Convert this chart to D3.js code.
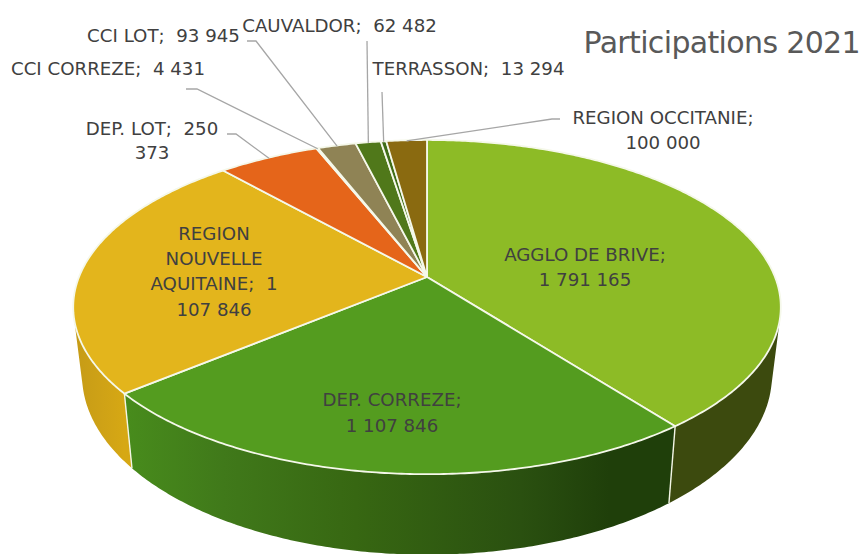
<!DOCTYPE html>
<html><head><meta charset="utf-8">
<script src="https://cdn.jsdelivr.net/npm/d3@7"></script>
<style>html,body{margin:0;padding:0;background:#fff}svg{display:block}
text{font-family:"DejaVu Sans",sans-serif;white-space:pre}</style></head>
<body><svg id="c" width="868" height="554"></svg>
<script>
const titleText = "Participations 2021";
const categories = ["AGGLO DE BRIVE","DEP. CORREZE","REGION NOUVELLE AQUITAINE","DEP. LOT","CCI CORREZE","CCI LOT","CAUVALDOR","TERRASSON","REGION OCCITANIE"];
const values = [1791165,1107846,1107846,250373,4431,93945,62482,13294,100000];
const topColors = ["#8dbb26","#549c1f","#e3b51c","#e5651a","#6f7a30","#8f8355","#50781a","#3f6d17","#8a6a10"];
const labelLines = [
 ["AGGLO DE BRIVE;","1 791 165"],["DEP. CORREZE;","1 107 846"],
 ["REGION","NOUVELLE","AQUITAINE;  1","107 846"],["DEP. LOT;  250","373"],
 ["CCI CORREZE;  4 431"],["CCI LOT;  93 945"],["CAUVALDOR;  62 482"],["TERRASSON;  13 294"],
 ["REGION OCCITANIE;","100 000"]];
// label layout: centre x, first baseline, line step, leader elbow points
const labelLayout = [
 {x:585,y:261,dy:24.5},{x:392,y:406,dy:25.5},{x:214,y:240,dy:25.2},
 {x:152,y:135,dy:24,lead:[[227,134],[236,134]]},
 {x:108,y:75,dy:0,lead:[[186,89],[197,89]]},
 {x:163.5,y:42,dy:0,lead:[[247,41],[256,41]]},
 {x:339.5,y:32,dy:0,lead:[[367,41]]},
 {x:468.5,y:75,dy:0,lead:[[382,92]]},
 {x:663,y:124,dy:25,lead:[[560,119],[552,119]]}];

const svg = d3.select("#c");
const cx=427, cy=277, S=348, K=161.7, P=0.18, D=66, SH=0.975;
const proj = (a,r=1)=>{const X=Math.sin(a)*r,Y=-Math.cos(a)*r,w=1-P*Y;return [cx+S*X/w,cy+K*Y/w];};
const projB = (a)=>{const X=Math.sin(a),Y=-Math.cos(a),w=1-P*Y;return [cx+SH*S*X/w,cy+K*Y/w+D/w];};
const pie = d3.pie().sort(null).value(d=>d)(values);
const line = d3.line();
const steps=(a0,a1)=>{const n=Math.max(2,Math.ceil((a1-a0)/0.01));return d3.range(n+1).map(i=>a0+(a1-a0)*i/n);};

const defs = svg.append("defs");
const g1 = defs.append("linearGradient").attr("id","gCor").attr("gradientUnits","userSpaceOnUse")
 .attr("x1",proj(pie[1].endAngle)[0]).attr("x2",proj(pie[1].startAngle)[0]).attr("y1",0).attr("y2",0);
[[0,"#488c1c"],[0.18,"#40791a"],[0.42,"#376712"],[0.72,"#2a5010"],[0.88,"#1f3f0a"],[1,"#1f3f0a"]].forEach(s=>g1.append("stop").attr("offset",s[0]).attr("stop-color",s[1]));
const g2 = defs.append("linearGradient").attr("id","gReg").attr("gradientUnits","userSpaceOnUse")
 .attr("x1",70).attr("x2",proj(pie[2].startAngle)[0]).attr("y1",0).attr("y2",0);
[[0,"#c49a16"],[0.6,"#cfa216"],[1,"#d6a814"]].forEach(s=>g2.append("stop").attr("offset",s[0]).attr("stop-color",s[1]));
const sideFill = ["#3c4a0e","url(#gCor)","url(#gReg)","#a84a12","#555","#6a6040","#3a5812","#2f5010","#66500c"];

// side walls: one quad per angular step, so the silhouette follows the tangents
svg.append("g").selectAll("path").data(pie).join("path")
 .attr("fill",(d,i)=>sideFill[i])
 .attr("d",d=>{const as=steps(d.startAngle,d.endAngle);
   return as.slice(1).map((a,i)=>{const b=as[i];
     const q=[proj(b),proj(a),projB(a),projB(b)];
     const area=d3.polygonArea(q);
     return line(area>0?q:q.reverse())+"Z";}).join("");});
// seams between walls
svg.append("g").selectAll("line").data(pie).join("line")
 .attr("x1",d=>proj(d.endAngle)[0]).attr("y1",d=>proj(d.endAngle)[1])
 .attr("x2",d=>projB(d.endAngle)[0]).attr("y2",d=>projB(d.endAngle)[1])
 .attr("stroke","#f3f6e6").attr("stroke-width",1.4);
// top faces
svg.append("g").selectAll("path").data(pie).join("path")
 .attr("fill",(d,i)=>topColors[i]).attr("stroke","#f5f8ea").attr("stroke-width",1.8).attr("stroke-linejoin","round")
 .attr("d",d=>line([[cx,cy]].concat(steps(d.startAngle,d.endAngle).map(a=>proj(a))))+"Z");
// leaders
svg.append("g").selectAll("path").data(pie.map((d,i)=>({d,i})).filter(o=>labelLayout[o.i].lead)).join("path")
 .attr("fill","none").attr("stroke","#a6a6a6").attr("stroke-width",1.3)
 .attr("d",o=>line(labelLayout[o.i].lead.concat([proj((o.d.startAngle+o.d.endAngle)/2,0.995)])));
// labels
const lab = svg.append("g").attr("fill","#404040").attr("font-size",18.2).attr("text-anchor","middle");
labelLines.forEach((ls,i)=>{const L=labelLayout[i];
 ls.forEach((t,j)=>lab.append("text").attr("x",L.x).attr("y",L.y+j*L.dy).text(t));});
svg.append("text").attr("x",860).attr("y",53).attr("text-anchor","end").attr("font-size",30).attr("letter-spacing",-0.65).attr("fill","#595959").text(titleText);
</script></body></html>
